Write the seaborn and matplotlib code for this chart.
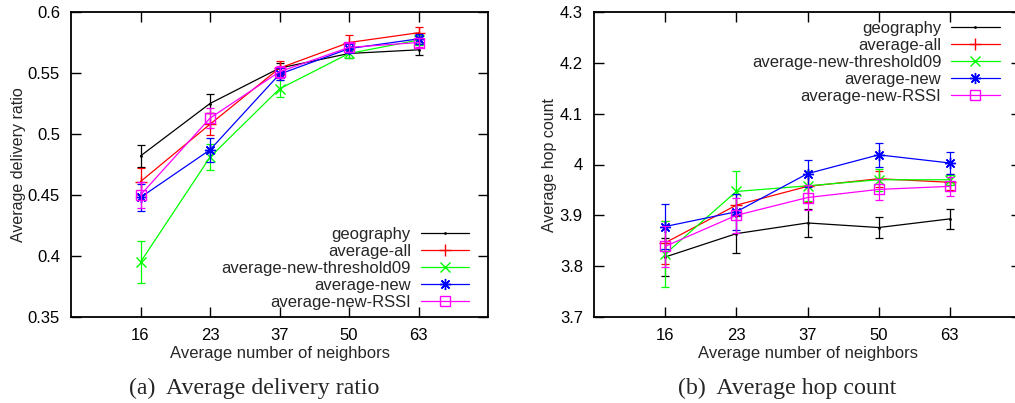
import numpy as np
import pandas as pd
import seaborn as sns
import matplotlib
matplotlib.use("Agg")
import matplotlib.pyplot as plt

# x categories
neighbors = [16, 23, 37, 50, 63]
series = ["geography", "average-all", "average-new-threshold09", "average-new", "average-new-RSSI"]

# (a) average delivery ratio, values and error half-widths
dr_geography = [0.482, 0.525, 0.554, 0.566, 0.569]
dr_all = [0.461, 0.508, 0.554, 0.575, 0.583]
dr_thr09 = [0.395, 0.481, 0.537, 0.566, 0.577]
dr_new = [0.448, 0.487, 0.549, 0.570, 0.578]
dr_rssi = [0.450, 0.513, 0.551, 0.571, 0.575]

dr_geography_err = [0.009, 0.008, 0.004, 0.004, 0.0045]
dr_all_err = [0.011, 0.009, 0.0055, 0.006, 0.005]
dr_thr09_err = [0.017, 0.0105, 0.007, 0.004, 0.004]
dr_new_err = [0.011, 0.0098, 0.005, 0.004, 0.004]
dr_rssi_err = [0.011, 0.008, 0.005, 0.004, 0.004]

# (b) average hop count, values and error half-widths
hc_geography = [3.818, 3.864, 3.885, 3.876, 3.893]
hc_all = [3.846, 3.920, 3.957, 3.972, 3.965]
hc_thr09 = [3.824, 3.947, 3.958, 3.970, 3.970]
hc_new = [3.878, 3.907, 3.982, 4.019, 4.003]
hc_rssi = [3.839, 3.900, 3.935, 3.951, 3.957]

hc_geography_err = [0.038, 0.038, 0.028, 0.020, 0.019]
hc_all_err = [0.042, 0.022, 0.030, 0.016, 0.016]
hc_thr09_err = [0.064, 0.040, 0.030, 0.022, 0.010]
hc_new_err = [0.045, 0.035, 0.026, 0.023, 0.021]
hc_rssi_err = [0.040, 0.035, 0.025, 0.020, 0.018]

colors = ["#000000", "#ff0000", "#00ff00", "#0000ff", "#ff00ff"]
markers = [".", "+", "x", (8, 2, 0), "s"]
msizes = [2, 8, 7, 8, 7]

sns.set_style("ticks")
plt.rcParams["font.family"] = ["Liberation Sans", "DejaVu Sans"]


def build(vals, errs):
    rows = []
    for name, v, e in zip(series, vals, errs):
        for i, (y, err) in enumerate(zip(v, e)):
            rows.append({"series": name, "pos": i, "value": y, "err": err})
    return pd.DataFrame(rows)


df_dr = build([dr_geography, dr_all, dr_thr09, dr_new, dr_rssi],
              [dr_geography_err, dr_all_err, dr_thr09_err, dr_new_err, dr_rssi_err])
df_hc = build([hc_geography, hc_all, hc_thr09, hc_new, hc_rssi],
              [hc_geography_err, hc_all_err, hc_thr09_err, hc_new_err, hc_rssi_err])

fig = plt.figure(figsize=(10.15, 4.03), dpi=100)
ax1 = fig.add_axes([71 / 1015, 86 / 403, 417 / 1015, 305 / 403])
ax2 = fig.add_axes([594 / 1015, 86 / 403, 427 / 1015, 305 / 403])


def draw(ax, df):
    for name, c, m, ms in zip(series, colors, markers, msizes):
        d = df[df["series"] == name]
        ax.errorbar(d["pos"], d["value"], yerr=d["err"], fmt="none",
                    ecolor=c, elinewidth=0.9, capsize=3, capthick=0.9)
        sns.lineplot(data=d, x="pos", y="value", ax=ax, color=c, marker=m,
                     markersize=ms, markerfacecolor="none", markeredgecolor=c,
                     markeredgewidth=1.0, linewidth=0.9, label=name,
                     errorbar=None, legend=True)
    ax.set_xlim(-1, 5)
    ax.set_xticks(range(len(neighbors)))
    ax.set_xticklabels([str(n) for n in neighbors])
    ax.tick_params(direction="in", top=True, right=True, length=7,
                   width=1, labelsize=12, pad=8, colors="black")
    for s in ax.spines.values():
        s.set_linewidth(1.3)
        s.set_color("black")
    ax.set_xlabel("Average number of neighbors", fontsize=12, labelpad=2)


legend_kw = dict(frameon=False, markerfirst=False, fontsize=12, labelspacing=0.12,
                 handlelength=2.9, handletextpad=0.6, borderpad=0,
                 borderaxespad=0, numpoints=1)

draw(ax1, df_dr)
ax1.set_ylim(0.35, 0.6)
ax1.set_yticks([0.35, 0.4, 0.45, 0.5, 0.55, 0.6])
ax1.set_yticklabels(["0.35", "0.4", "0.45", "0.5", "0.55", "0.6"])
ax1.set_ylabel("Average delivery ratio", fontsize=11.5, labelpad=1)
ax1.legend(loc="lower right", bbox_to_anchor=(0.955, 0.022), **legend_kw)
ax1.get_legend()._legend_box.align = "right"

draw(ax2, df_hc)
ax2.set_ylim(3.7, 4.3)
ax2.set_yticks([3.7, 3.8, 3.9, 4.0, 4.1, 4.2, 4.3])
ax2.set_yticklabels(["3.7", "3.8", "3.9", "4", "4.1", "4.2", "4.3"])
ax2.set_ylabel("Average hop count", fontsize=11.5, labelpad=2)
ax2.legend(loc="upper right", bbox_to_anchor=(0.95, 0.972), **legend_kw)
ax2.get_legend()._legend_box.align = "right"

fig.text(254 / 1015, 1 - 394 / 403, "(a)  Average delivery ratio", ha="center",
         va="baseline", fontsize=17.2, family="Liberation Serif")
fig.text(787 / 1015, 1 - 394 / 403, "(b)  Average hop count", ha="center",
         va="baseline", fontsize=17.2, family="Liberation Serif")

fig.savefig("out.png", dpi=100)
